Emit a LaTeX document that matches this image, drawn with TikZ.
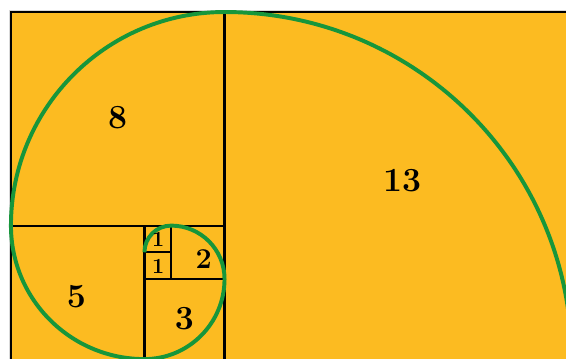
\documentclass[tikz,border=0pt]{standalone}
\usepackage{xcolor}
\usepackage{tikz}
\definecolor{fibYellow}{HTML}{FCBB21}
\definecolor{fibGreen}{HTML}{17963B}

\begin{document}
\begin{tikzpicture}[
        sq/.style={draw=black, line width=2.3pt},
        halo/.style={draw=gray!30, line width=4.5pt},
        spiral/.style={draw=fibGreen, line width=4.2pt},
        num/.style={font=\fontsize{36}{40}\selectfont\bfseries},
        numsmall/.style={font=\fontsize{23}{26}\selectfont\bfseries},
    ]
    \useasboundingbox (-0.41,0.04) rectangle (20.79,13.45);

    % background and frame (bottom edge lies outside the view)
    \draw[halo] (0,-1) -- (0,13) -- (21,13);
    \fill[fibYellow] (0,-1) rectangle (21,13);
    \draw[sq] (0,-1) -- (0,13) -- (21,13) -- (21,-1);

    % squares
    \draw[sq] (8,-1) -- (8,13);
    \draw[sq] (0,5) -- (8,5);
    \draw[sq] (5,-1) -- (5,5);
    \draw[sq] (5,3) -- (8,3);
    \draw[sq] (6,3) -- (6,5);
    \draw[sq] (5,4) -- (6,4);

    % spiral
    \draw[spiral] (5,4) arc[start angle=180, end angle=90, radius=1]
        arc[start angle=90, end angle=0, radius=2]
        arc[start angle=0, end angle=-90, radius=3]
        arc[start angle=270, end angle=180, radius=5]
        arc[start angle=180, end angle=90, radius=8]
        arc[start angle=90, end angle=0, radius=13];

    % labels
    \node[num] (s13) at (14.65,6.7) {13};
    \node[num] (s8) at (4,9.05) {8};
    \node[num] (s5) at (2.45,2.35) {5};
    \node[num] (s3) at (6.5,1.5) {3};
    \node[num, scale=0.85] (s2) at (7.22,3.75) {2};
    \node[numsmall] (s1a) at (5.52,4.5) {1};
    \node[numsmall] (s1b) at (5.52,3.48) {1};
\end{tikzpicture}
\end{document}
